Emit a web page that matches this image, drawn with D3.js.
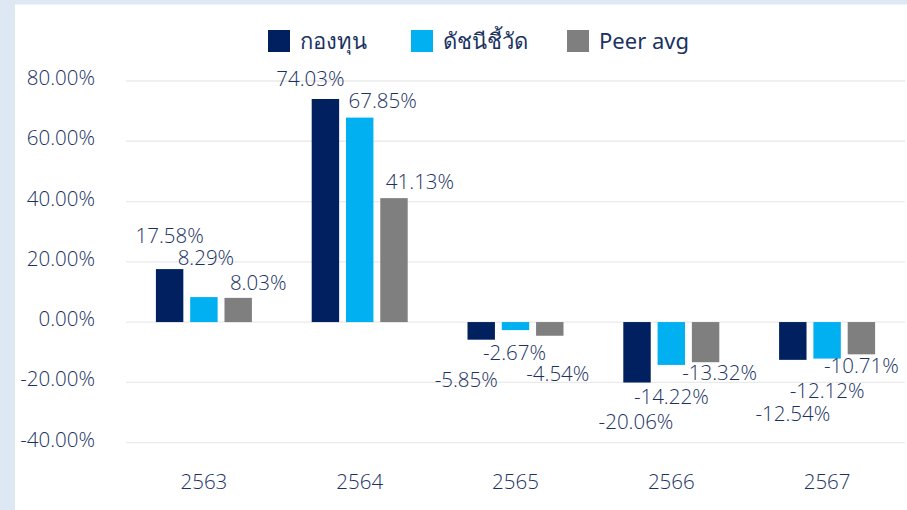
<!DOCTYPE html>
<html>
<head>
<meta charset="utf-8">
<script src="https://cdn.jsdelivr.net/npm/d3@7"></script>
<style>
  body { margin: 0; background: #fff; }
  text { font-family: "Open Sans", "Noto Sans", sans-serif; font-weight: 300; }
  text.legend-label { font-family: "Noto Sans", sans-serif; font-weight: 400; }
</style>
</head>
<body>
<div id="chart"></div>
<script>
// data
const years = ["2563", "2564", "2565", "2566", "2567"];
const seriesNames = ["กองทุน", "ดัชนีชี้วัด", "Peer avg"];
const fundValues = [17.58, 74.03, -5.85, -20.06, -12.54];
const indexValues = [8.29, 67.85, -2.67, -14.22, -12.12];
const peerValues = [8.03, 41.13, -4.54, -13.32, -10.71];
const yTicks = [-40, -20, 0, 20, 40, 60, 80];

// label nudges (px from bar end), as placed in the original
const labelDx = [[0, -15, -15, -1, 0], [2, 23, -1, 0, 0], [20, 26, 8, 14, 0]];
const labelDy = [[-33, -20, 40, 39, 54], [-39, -17, 23, 32, 32], [-15, -16, 38, 10.5, 11.5]];

const colors = ["#002060", "#00B0F0", "#7F7F7F"];
const textColor = "#1a3262";

const width = 907, height = 510;
const plotLeft = 126, plotRight = 905, plotTop = 81, plotBottom = 442.6;

const svg = d3.select("#chart").append("svg")
    .attr("width", width)
    .attr("height", height);

// light blue frame on left and top
svg.append("rect").attr("x", 0).attr("y", 0).attr("width", 15).attr("height", height).attr("fill", "#dde8f4");
svg.append("rect").attr("x", 0).attr("y", 0).attr("width", width).attr("height", 4.5).attr("fill", "#dde8f4");

const x0 = d3.scaleBand().domain(years).range([plotLeft, plotRight]);
const x1 = d3.scaleBand().domain([0, 1, 2])
    .range([x0.bandwidth() / 2 - 48, x0.bandwidth() / 2 + 48])
    .paddingInner(0.2);
const y = d3.scaleLinear().domain([-40, 80]).range([plotBottom, plotTop]);

// gridlines
svg.append("g")
    .selectAll("line")
    .data(yTicks)
    .join("line")
    .attr("x1", plotLeft)
    .attr("x2", plotRight)
    .attr("y1", d => y(d))
    .attr("y2", d => y(d))
    .attr("stroke", "#eaeaea")
    .attr("stroke-width", 1.3);

// y axis labels
const yAxis = svg.append("g")
    .attr("transform", "translate(" + (plotLeft - 31) + ",-3)")
    .call(d3.axisLeft(y).tickValues(yTicks).tickSize(0).tickPadding(0).tickFormat(d => d.toFixed(2) + "%"));
yAxis.select(".domain").remove();
yAxis.selectAll("text")
    .attr("fill", textColor)
    .style("font-size", "20.5px");

// x axis labels
const xAxis = svg.append("g")
    .attr("transform", "translate(0,474)")
    .call(d3.axisBottom(x0).tickSize(0).tickPadding(0));
xAxis.select(".domain").remove();
xAxis.selectAll("text")
    .attr("fill", textColor)
    .style("font-size", "20.5px");

const allSeries = [fundValues, indexValues, peerValues];
const rows = [];
allSeries.forEach((vals, s) => {
    vals.forEach((v, i) => rows.push({s: s, i: i, year: years[i], v: v}));
});

// bars
svg.append("g")
    .selectAll("rect")
    .data(rows)
    .join("rect")
    .attr("x", d => x0(d.year) + x1(d.s))
    .attr("width", x1.bandwidth())
    .attr("y", d => y(Math.max(0, d.v)))
    .attr("height", d => Math.abs(y(d.v) - y(0)))
    .attr("fill", d => colors[d.s]);

// value labels
svg.append("g")
    .selectAll("text")
    .data(rows)
    .join("text")
    .attr("x", d => x0(d.year) + x1(d.s) + x1.bandwidth() / 2 + labelDx[d.s][d.i])
    .attr("y", d => y(d.v) + labelDy[d.s][d.i])
    .attr("dy", "0.35em")
    .attr("text-anchor", "middle")
    .attr("fill", textColor)
    .style("font-size", "20.5px")
    .text(d => d.v.toFixed(2) + "%");

// legend
const legendX = [268, 411, 567];
const legend = svg.append("g")
    .selectAll("g")
    .data(seriesNames)
    .join("g")
    .attr("transform", (d, i) => "translate(" + legendX[i] + ",30)");
legend.append("rect")
    .attr("width", 22)
    .attr("height", 22)
    .attr("fill", (d, i) => colors[i]);
legend.append("text")
    .attr("class", "legend-label")
    .attr("x", 32)
    .attr("y", 11)
    .attr("dy", "0.35em")
    .attr("fill", textColor)
    .style("font-size", "22px")
    .text(d => d);
</script>
</body>
</html>
